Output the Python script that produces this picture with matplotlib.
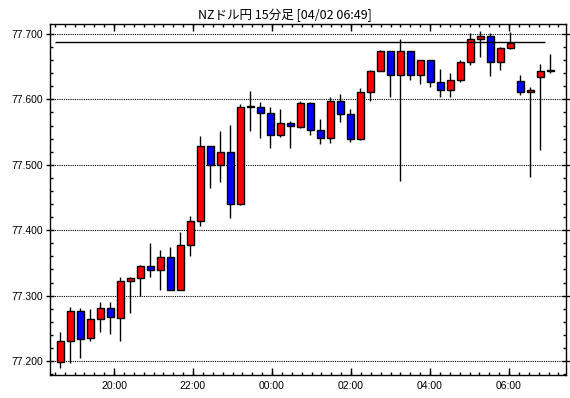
import matplotlib
matplotlib.use("Agg")
import matplotlib.pyplot as plt
import numpy as np
from matplotlib.ticker import MultipleLocator, FormatStrFormatter, FixedLocator

# NZD/JPY 15 minute candles, 18:30 -> 06:45
opens = [77.198, 77.230, 77.276, 77.235, 77.264, 77.281, 77.266, 77.322, 77.327, 77.345,
         77.339, 77.359, 77.308, 77.377, 77.414, 77.528, 77.499, 77.519, 77.440, 77.588,
         77.588, 77.579, 77.545, 77.564, 77.558, 77.594, 77.553, 77.541, 77.597, 77.577,
         77.540, 77.612, 77.643, 77.674, 77.638, 77.674, 77.637, 77.661, 77.626, 77.614,
         77.629, 77.657, 77.692, 77.697, 77.657, 77.678, 77.628, 77.611, 77.634, 77.644]
highs = [77.245, 77.283, 77.281, 77.280, 77.290, 77.290, 77.329, 77.329, 77.347, 77.380,
         77.370, 77.374, 77.397, 77.422, 77.544, 77.528, 77.552, 77.561, 77.593, 77.613,
         77.596, 77.588, 77.585, 77.567, 77.598, 77.596, 77.570, 77.603, 77.608, 77.585,
         77.617, 77.645, 77.675, 77.674, 77.693, 77.674, 77.661, 77.661, 77.647, 77.640,
         77.661, 77.702, 77.705, 77.702, 77.680, 77.703, 77.637, 77.619, 77.654, 77.669]
lows = [77.190, 77.197, 77.205, 77.231, 77.245, 77.242, 77.230, 77.273, 77.300, 77.329,
        77.308, 77.308, 77.308, 77.361, 77.407, 77.465, 77.474, 77.419, 77.438, 77.551,
        77.541, 77.526, 77.542, 77.525, 77.557, 77.545, 77.532, 77.534, 77.565, 77.535,
        77.538, 77.597, 77.643, 77.603, 77.476, 77.630, 77.624, 77.619, 77.603, 77.603,
        77.627, 77.653, 77.665, 77.636, 77.645, 77.677, 77.606, 77.482, 77.522, 77.641]
closes = [77.231, 77.276, 77.234, 77.264, 77.281, 77.267, 77.322, 77.327, 77.345, 77.339,
          77.359, 77.308, 77.377, 77.414, 77.528, 77.499, 77.519, 77.440, 77.588, 77.589,
          77.579, 77.545, 77.564, 77.559, 77.594, 77.553, 77.541, 77.597, 77.577, 77.540,
          77.612, 77.643, 77.674, 77.638, 77.674, 77.637, 77.661, 77.626, 77.614, 77.629,
          77.657, 77.692, 77.697, 77.657, 77.678, 77.687, 77.611, 77.615, 77.643, 77.645]

ref_level = 77.688  # horizontal line near the top
time_labels = ["20:00", "22:00", "00:00", "02:00", "04:00", "06:00"]
title = "NZドル円 15分足 [04/02 06:49]"

fig = plt.figure(figsize=(5.7, 3.98), dpi=100)
ax = fig.add_axes([50 / 570, 23 / 398, 516 / 570, 351 / 398])

x = np.arange(len(opens))
for i in x:
    o, h, l, c = opens[i], highs[i], lows[i], closes[i]
    col = 'red' if c >= o else 'blue'
    ax.vlines(i, l, h, color='black', lw=1, zorder=2)
    ax.bar(i, max(abs(c - o), 0.0012), bottom=min(o, c), width=0.65,
           color=col, edgecolor='black', linewidth=1, zorder=3)

ax.hlines(ref_level, -0.5, len(opens) - 1.5, color='black', lw=1, zorder=4)

ax.set_xlim(-1.03, 50.57)
ax.set_ylim(77.1786, 77.7153)

# time ticks: 2 hours apart, one minor tick per bar
step = 7.9
major = [5.37 + step * k for k in range(len(time_labels))]
ax.xaxis.set_major_locator(FixedLocator(major))
ax.set_xticklabels(time_labels)
ax.xaxis.set_minor_locator(FixedLocator(np.arange(-0.55, 50.5, step / 8)))

ax.yaxis.set_major_locator(MultipleLocator(0.1))
ax.yaxis.set_minor_locator(MultipleLocator(0.02))
ax.yaxis.set_major_formatter(FormatStrFormatter('%.3f'))

ax.yaxis.grid(True, which='major', color='black', linestyle=(0, (1, 1)), lw=0.8)
ax.set_axisbelow(True)

ax.tick_params(axis='both', which='both', direction='in', top=True, right=True,
               colors='black', labelsize=7.5, width=1)
ax.tick_params(axis='both', which='major', length=5, pad=4)
ax.tick_params(axis='y', which='major', direction='inout', length=6, pad=2)
ax.tick_params(axis='both', which='minor', length=2.5)
for lab in ax.get_xticklabels() + ax.get_yticklabels():
    lab.set_family('Liberation Sans')
for s in ax.spines.values():
    s.set_linewidth(1)
    s.set_color('black')

fig.text(0.5, 1 - 15 / 398, title, ha='center', va='center', fontsize=9,
         family=['Noto Sans CJK JP', 'DejaVu Sans'])

fig.savefig('out.png', dpi=100)
